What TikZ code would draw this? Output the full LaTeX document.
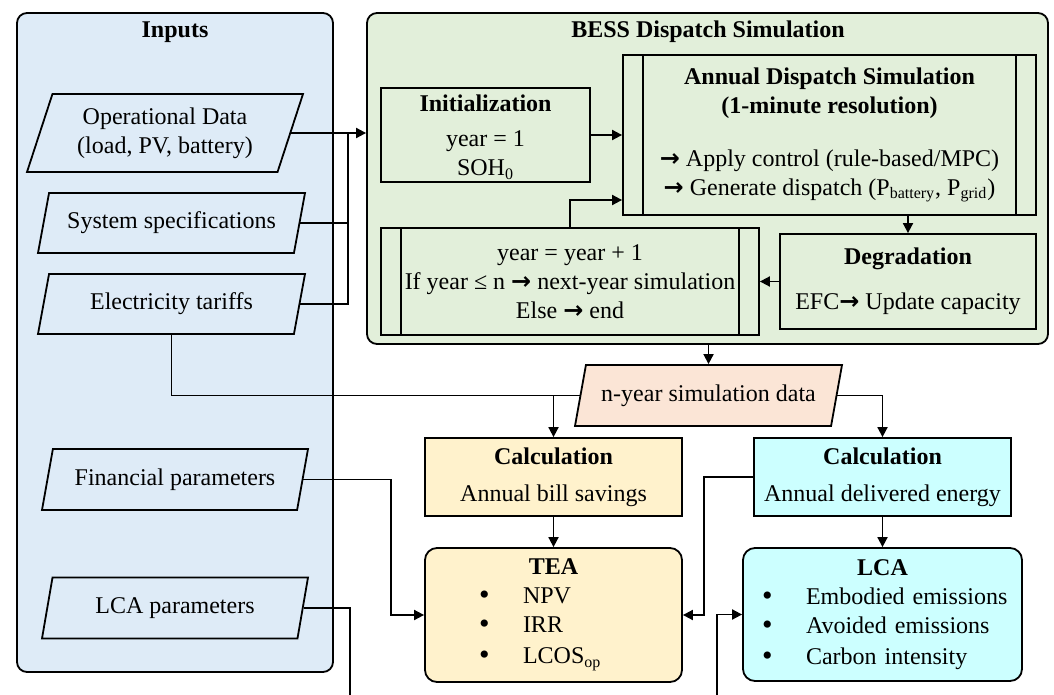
\documentclass[tikz,border=0pt,12pt]{standalone}
\usepackage{fontspec}
\setmainfont{Liberation Serif}
\newfontfamily\arrowfont{DejaVu Sans}[BoldFont={DejaVu Sans Bold}]
\usetikzlibrary{shapes.geometric, arrows.meta}

\definecolor{inblue}{RGB}{222,235,247}
\definecolor{simgreen}{RGB}{226,239,218}
\definecolor{datapeach}{RGB}{251,229,214}
\definecolor{teayellow}{RGB}{255,242,204}
\definecolor{lcacyan}{RGB}{204,255,255}

\newcommand{\ra}{{\arrowfont\bfseries →}}
\newcommand{\bul}[2]{\hspace*{#1}\makebox[22pt][l]{\smash{\raisebox{-0.5pt}{\fontsize{15}{0}\selectfont\textbullet}}}#2}

\begin{document}
\begin{tikzpicture}[x=0.5pt, y=-0.5pt, line width=0.9pt,
    group/.style = {draw, rounded corners=5pt, inner sep=0pt},
    io/.style = {draw, trapezium, trapezium left angle=63.4, trapezium right angle=116.6,
        trapezium stretches body, fill=inblue, inner sep=0pt, align=center},
    box/.style = {draw, rectangle, inner sep=0pt, align=center},
    subproc/.style = {box, path picture={
        \draw ([xshift=10pt]path picture bounding box.north west) -- ([xshift=10pt]path picture bounding box.south west);
        \draw ([xshift=-10pt]path picture bounding box.north east) -- ([xshift=-10pt]path picture bounding box.south east);}},
    result/.style = {draw, rounded corners=6pt, inner sep=0pt, align=left},
    arr/.style = {-{Triangle[length=5pt, width=5pt]}}]
    \path[use as bounding box, clip] (0,0) rectangle (1054,695);

    % blocchi di sfondo
    \node[group, fill=inblue, minimum width=158pt, minimum height=329.5pt] (inputs) at (175,342.5) {};
    \node[font=\bfseries] (inTitle) at (175,32) {Inputs};
    \node[group, fill=simgreen, minimum width=340.5pt, minimum height=165.5pt] (sim) at (707.5,178.5) {};
    \node[font=\bfseries] (simTitle) at (708,32) {BESS Dispatch Simulation};

    % dati di ingresso
    \node[io, minimum width=138pt, minimum height=39pt] (opdata) at (165,133) {Operational Data\\(load, PV, battery)};
    \node[io, minimum width=133.5pt, minimum height=30pt] (specs) at (171.5,223) {System specifications};
    \node[io, minimum width=133.5pt, minimum height=30pt] (tariffs) at (171.5,304) {Electricity tariffs};
    \node[io, minimum width=133pt, minimum height=30.5pt] (finpar) at (175,479.5) {Financial parameters};
    \node[io, minimum width=133pt, minimum height=30.5pt] (lcapar) at (175,608) {LCA parameters};

    % simulazione
    \node[box, minimum width=104.5pt, minimum height=47pt] (init) at (485.5,135) {\\[-4pt]\textbf{Initialization}\\[3pt] year = 1\\ SOH\textsubscript{0}};
    \node[subproc, minimum width=206.5pt, minimum height=80pt] (ads) at (829.5,135) {\textbf{Annual Dispatch Simulation}\\ \textbf{(1-minute resolution)}\\[12pt] \ra{} Apply control (rule-based/MPC)\\ \ra{} Generate dispatch (P\textsubscript{battery}, P\textsubscript{grid})};
    \node[subproc, minimum width=189pt, minimum height=53.5pt] (loop) at (570,281.5) {year = year + 1\\ If year ≤ n \ra{} next-year simulation\\ Else \ra{} end};
    \node[box, minimum width=128pt, minimum height=47.5pt] (degr) at (908,281.5) {\textbf{Degradation}\\[8pt] EFC\ra{} Update capacity};

    % risultati
    \node[io, fill=datapeach, minimum width=133.5pt, minimum height=30.5pt] (nyear) at (708.5,395.5) {n-year simulation data};
    \node[box, fill=teayellow, minimum width=128.5pt, minimum height=39pt] (bill) at (553.5,477) {\textbf{Calculation}\\[4pt] Annual bill savings};
    \node[box, fill=lcacyan, minimum width=128.5pt, minimum height=39pt] (energy) at (882.5,477) {\textbf{Calculation}\\[4pt] Annual delivered energy};
    \node[result, fill=teayellow, minimum height=67pt, text width=128.5pt] (tea) at (553.5,615) {\makebox[\linewidth]{\textbf{TEA}}\\ \bul{27pt}{NPV}\\ \bul{27pt}{IRR}\\[1pt] \bul{27pt}{LCOS\textsubscript{op}}};
    \node[result, fill=lcacyan, minimum height=66.5pt, text width=139.5pt] (lca) at (882.5,614.5) {\makebox[\linewidth]{\textbf{LCA}}\\ \bul{9.5pt}{Embodied emissions}\\ \bul{9.5pt}{Avoided emissions}\\[1pt] \bul{9.5pt}{Carbon intensity}};

    % collegamenti
    \coordinate (bus) at (348,133);
    \draw[arr] (opdata.east) -- (opdata.east -| sim.west);
    \draw (specs.east) -| (bus);
    \draw (tariffs.east) -| (bus);
    \draw[arr] (init) -- (ads);
    \draw[arr] (degr.north |- ads.south) -- (degr.north);
    \draw[arr] (degr) -- (loop);
    \draw[arr] (loop.north) |- ([yshift=-32.5pt]ads.west);
    \draw[arr] (nyear.north |- sim.south) -- (nyear.north);
    \draw[arr] (nyear.west) -| (bill.north);
    \draw (tariffs.south) |- (bill.north |- nyear.west);
    \draw[arr] (nyear.east) -| (energy.north);
    \draw[arr] (bill) -- (tea);
    \draw[arr] (energy) -- (lca);

    \coordinate (finbend) at (391,615);
    \draw[arr] (finpar.east) -| (finbend) -- (tea.west);
    \coordinate (engbend) at (704,615);
    \draw[arr] (energy.west) -| (engbend) -- (tea.east);
    \coordinate (lcadown) at (350,720);
    \coordinate (lcaup) at (717,614.5);
    \draw[arr] (lcapar.east) -| (lcadown) -| (lcaup) -- (lca.west);
\end{tikzpicture}
\end{document}
